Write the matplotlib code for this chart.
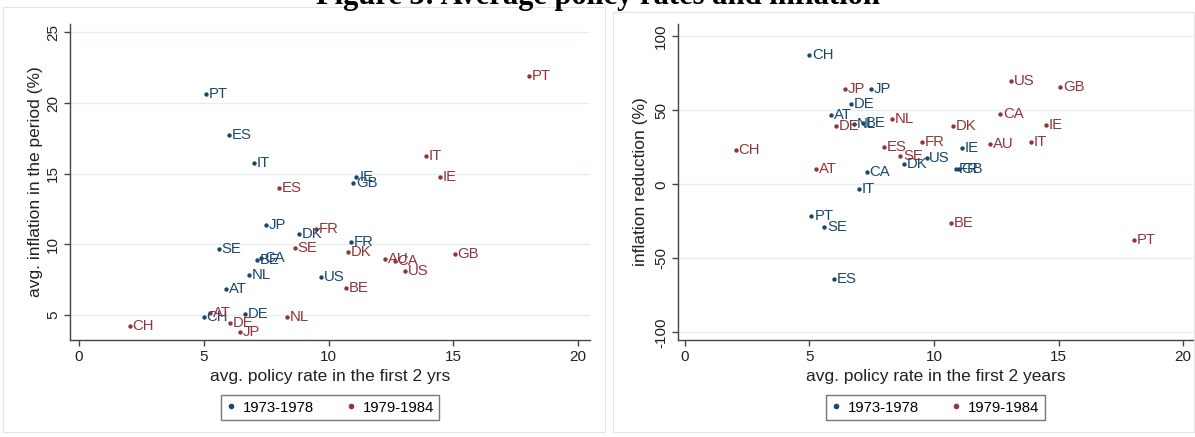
import matplotlib
matplotlib.use("Agg")
import matplotlib.pyplot as plt
from matplotlib.patches import Rectangle
from matplotlib.lines import Line2D

plt.rcParams["font.family"] = ["Liberation Sans", "DejaVu Sans"]
plt.rcParams["axes.unicode_minus"] = False

BLUE = "#1a476f"
RED = "#90353b"

# 1973-1978 episode
countries_a = ["PT", "ES", "IT", "IE", "GB", "JP", "DK", "FR", "SE", "CA",
               "BE", "NL", "US", "AT", "CH", "DE"]
rate_a = [5.08, 6.0, 7.0, 11.12, 11.0, 7.48, 8.81, 10.9, 5.6, 7.3,
          7.15, 6.8, 9.7, 5.88, 5.0, 6.65]
infl_a = [20.67, 17.77, 15.78, 14.79, 14.36, 11.38, 10.74, 10.2, 9.68, 9.02,
          8.87, 7.84, 7.70, 6.82, 4.86, 5.07]
reduc_a = [-21.4, -63.7, -3.0, 24.5, 10.0, 64.1, 13.5, 10.6, -28.6, 8.1,
           41.2, 40.4, 17.8, 46.8, 87.6, 54.1]

# 1979-1984 episode
countries_b = ["PT", "IT", "IE", "ES", "FR", "SE", "DK", "BE", "AU", "CA",
               "US", "GB", "NL", "AT", "DE", "JP", "CH"]
rate_b = [18.04, 13.9, 14.48, 8.0, 9.51, 8.64, 10.77, 10.7, 12.26, 12.65,
          13.08, 15.06, 8.33, 5.27, 6.07, 6.44, 2.04]
infl_b = [21.95, 16.28, 14.74, 13.98, 11.1, 9.73, 9.49, 6.89, 8.99, 8.83,
          8.14, 9.3, 4.88, 5.16, 4.41, 3.82, 4.22]
reduc_b = [-37.4, 28.8, 40.1, 25.0, 28.8, 19.1, 39.4, -26.2, 27.0, 47.3,
           69.8, 65.7, 44.1, 10.1, 39.6, 64.1, 23.2]

legend_labels = ["1973-1978", "1979-1984"]
title = "Figure 3: Average policy rates and inflation"

W, H = 1195, 437
fig = plt.figure(figsize=(W / 100, H / 100), dpi=100)


def px_box(x0, y0, x1, y1):
    return [x0 / W, 1 - y1 / H, (x1 - x0) / W, (y1 - y0) / H]


# light panel frames
for (x0, y0, x1, y1) in [(3, 7, 605, 432), (613, 12, 1194, 432)]:
    fig.patches.append(Rectangle((x0 / W, 1 - y1 / H), (x1 - x0) / W, (y1 - y0) / H,
                                 transform=fig.transFigure, fill=False,
                                 edgecolor="#e4e4e4", lw=0.8))

fig.text(0.5, 1 - 4 / H, title, ha="center", va="baseline", fontsize=22,
         fontweight="bold", family="Liberation Serif", color="black")


def panel(rect, ya, yb, xlim, ylim, yticks, xlabel, ylabel, ylab_x):
    ax = fig.add_axes(rect)
    ax.set_xlim(*xlim)
    ax.set_ylim(*ylim)
    for s in ["top", "right"]:
        ax.spines[s].set_visible(False)
    for s in ["left", "bottom"]:
        ax.spines[s].set_color("#444444")
        ax.spines[s].set_linewidth(1.0)
    ax.set_xticks([0, 5, 10, 15, 20])
    ax.set_yticks(yticks)
    ax.set_yticklabels([str(t) for t in yticks], rotation=90, va="center")
    ax.tick_params(direction="out", length=4, width=1.0, color="#444444",
                   labelsize=11, labelcolor="#222222", pad=3)
    for t in yticks:
        ax.axhline(t, color="#e6eef0", lw=1.0, zorder=0)
    ax.scatter(rate_a, ya, s=10, color=BLUE, zorder=3, linewidths=0)
    ax.scatter(rate_b, yb, s=10, color=RED, zorder=3, linewidths=0)
    for c, x, y in zip(countries_a, rate_a, ya):
        ax.annotate(c, (x, y), xytext=(2, 0), textcoords="offset points",
                    ha="left", va="center", fontsize=10.7, color=BLUE)
    for c, x, y in zip(countries_b, rate_b, yb):
        ax.annotate(c, (x, y), xytext=(2, 0), textcoords="offset points",
                    ha="left", va="center", fontsize=10.7, color=RED)
    ax.set_xlabel(xlabel, fontsize=12.5, color="#222222")
    ax.set_ylabel(ylabel, fontsize=12.5, color="#222222")
    ax.xaxis.set_label_coords(0.5, -0.114)
    ax.yaxis.set_label_coords(ylab_x, 0.5)
    ax.xaxis.label.set_va("center")
    ax.yaxis.label.set_va("center")
    handles = [Line2D([], [], ls="none", marker="o", ms=3, color=BLUE),
               Line2D([], [], ls="none", marker="o", ms=3, color=RED)]
    leg = ax.legend(handles, legend_labels, loc="center",
                    bbox_to_anchor=(0.5, -0.214), ncol=2, frameon=True,
                    fancybox=False, edgecolor="#555555", fontsize=10.7,
                    handlelength=0.6, handletextpad=0.5, columnspacing=2.2,
                    borderpad=0.35, borderaxespad=0)
    leg.get_frame().set_linewidth(1.0)
    return ax


panel(px_box(70, 24, 590, 340), infl_a, infl_b,
      (-0.36, 20.48), (3.23, 25.6), [5, 10, 15, 20, 25],
      "avg. policy rate in the first 2 yrs", "avg. inflation in the period (%)",
      -0.067)

panel(px_box(678, 24, 1193, 340), reduc_a, reduc_b,
      (-0.28, 20.4), (-105.2, 108.3), [-100, -50, 0, 50, 100],
      "avg. policy rate in the first 2 years", "inflation reduction (%)",
      -0.072)

fig.savefig("out.png", dpi=100, facecolor="white")
